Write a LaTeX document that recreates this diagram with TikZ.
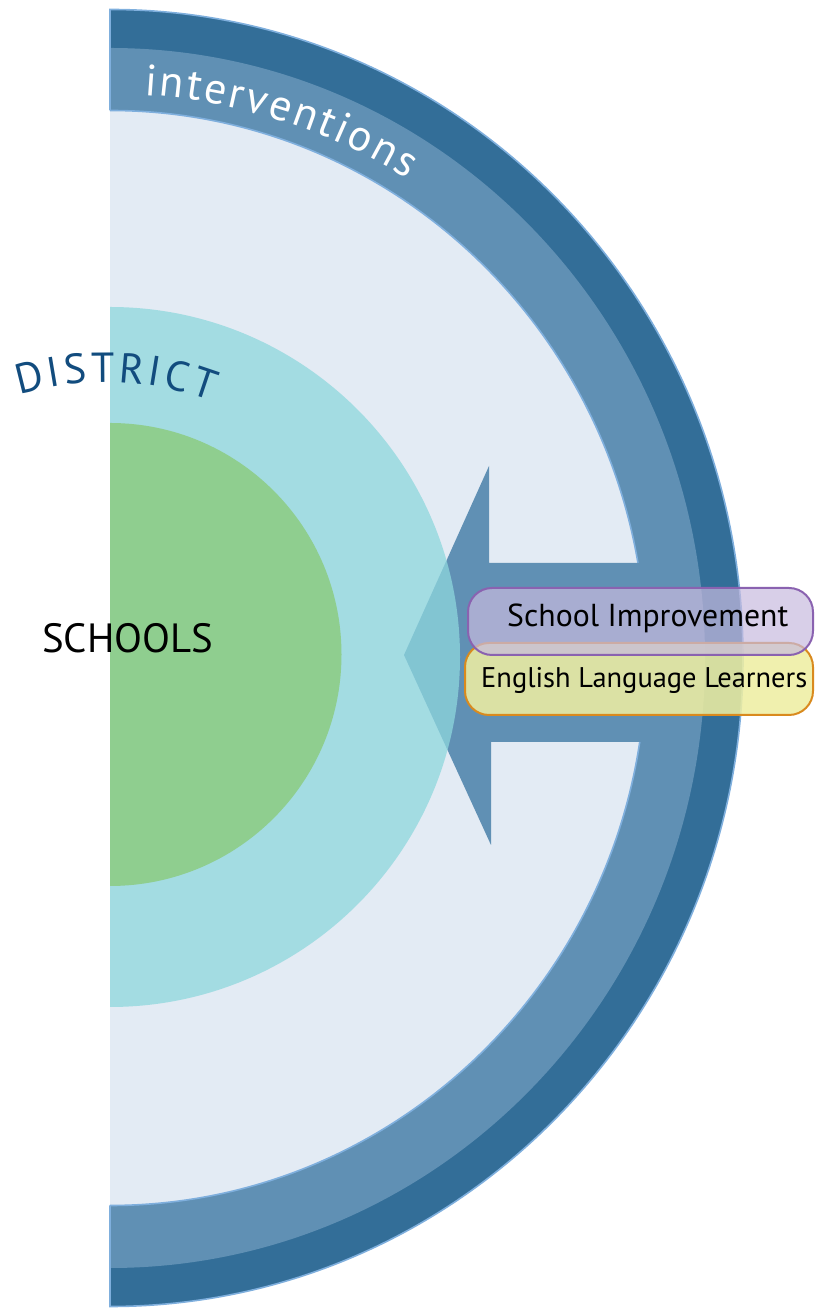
\documentclass[tikz,border=0pt]{standalone}
\usepackage{fontspec}
\setmainfont{PT Sans}
\usepackage{graphicx}
\usetikzlibrary{calc,decorations.text}
\definecolor{darkband}{HTML}{336E98}
\definecolor{midband}{HTML}{6090B4}
\definecolor{lightin}{HTML}{E3EBF4}
\definecolor{rim}{HTML}{7FAFDD}
\definecolor{distcol}{RGB}{142,215,221}
\definecolor{schoolcol}{HTML}{8FCE8F}
\definecolor{disttext}{HTML}{124C7E}
\definecolor{purfill}{RGB}{199,186,222}
\definecolor{purline}{HTML}{8A62B0}
\definecolor{yelfill}{RGB}{238,238,162}
\definecolor{yelline}{HTML}{D98A1E}
\tikzset{
  rimline/.style={draw=rim,line width=1.6pt},
  boxlabel/.style={anchor=base west,inner sep=0pt,text=black},
}
\begin{document}
\begin{tikzpicture}[x=1pt,y=1pt]
\useasboundingbox (0,0) rectangle (815,1309);
\coordinate (C) at (110,651);
% bands
\fill[darkband] (110,1299.5) arc[start angle=90,end angle=-90,x radius=633,y radius=648.5] -- cycle;
\fill[midband] (110,1261) arc[start angle=90,end angle=-90,x radius=595,y radius=610] -- cycle;
\fill[lightin] (110,1198.5) arc[start angle=90,end angle=-90,x radius=536,y radius=547.5] -- cycle;
\draw[rimline] (110,1198.5) arc[start angle=90,end angle=-90,x radius=536,y radius=547.5];
\draw[rimline] (110,1198.5) -- (110,1299.5) arc[start angle=90,end angle=-90,x radius=633,y radius=648.5] -- (110,103.5);
% arrow
\fill[midband] (404,654) -- (489,843) -- (489,746) -- (652,746) -- (652,567) -- (491,567) -- (491,464) -- cycle;
% district and schools
\fill[distcol,opacity=0.75] (110,1002) arc[start angle=90,end angle=-90,radius=350] -- cycle;
\fill[schoolcol] (110,886) arc[start angle=90,end angle=-90,radius=231.5] -- cycle;
% interventions
\path[decorate,decoration={text along path,text align={fit to path},
  text={|\fontsize{44}{48}\selectfont\color{white}|interventions}}]
  ($(C)+(86.5:564)$) arc[start angle=86.5,end angle=58.2,radius=564];
% DISTRICT
\coordinate (D) at (105,627);
\path[decorate,decoration={text along path,text align={fit to path},
  text={|\fontsize{42}{46}\selectfont\color{disttext}|DISTRICT}}]
  ($(D)+(106.6:300)$) arc[start angle=106.6,end angle=69.2,radius=300];
% SCHOOLS
\node[boxlabel] (schools) at (42,656) {\resizebox{171pt}{!}{SCHOOLS}};
% boxes
\node[draw=yelline,line width=2pt,fill=yelfill,fill opacity=0.87,rounded corners=24pt,minimum width=348pt,minimum height=72pt,inner sep=0pt] (ell) at (639,630) {};
\node[draw=purline,line width=2pt,fill=purfill,fill opacity=0.7,rounded corners=24pt,minimum width=345pt,minimum height=67pt,inner sep=0pt] (si) at (640.5,687.5) {};
\node[boxlabel] (sitext) at (507,682) {\resizebox{281pt}{!}{School Improvement}};
\node[boxlabel] (elltext) at (481,621) {\resizebox{326pt}{!}{English Language Learners}};
\end{tikzpicture}
\end{document}
